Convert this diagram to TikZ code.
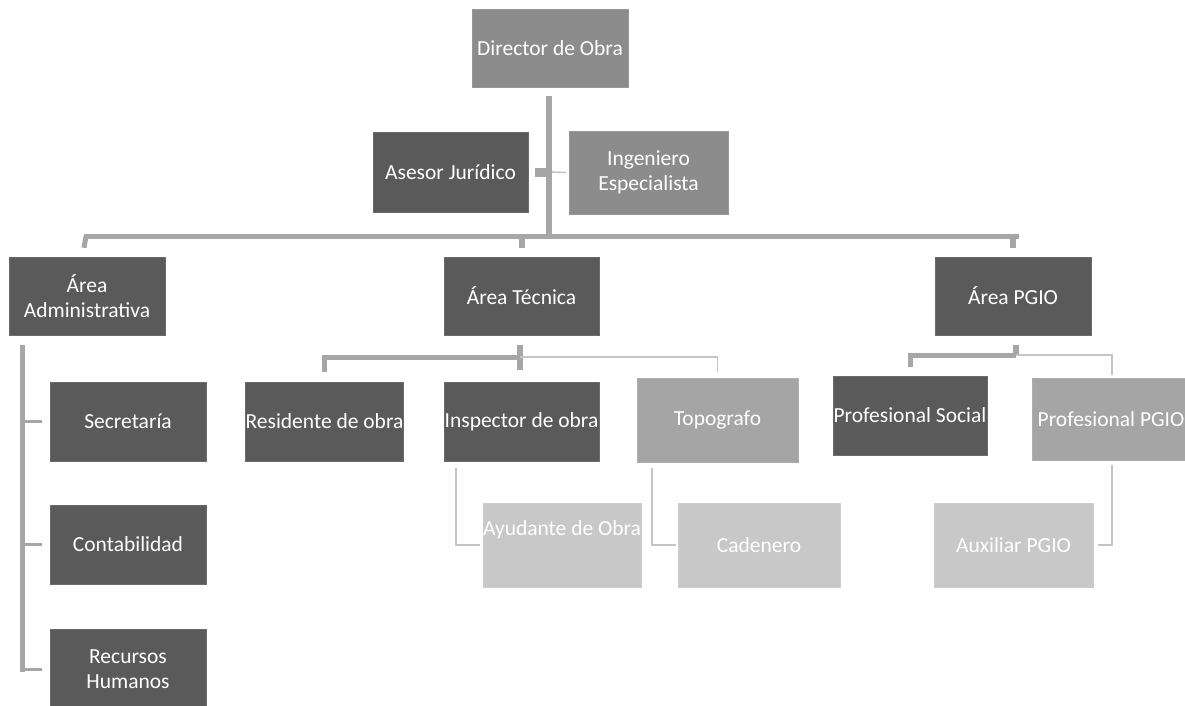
\documentclass[tikz,border=0pt]{standalone}
\usepackage{fontspec}
\setmainfont{Carlito}
\usetikzlibrary{calc}
\definecolor{boxdark}{HTML}{5A5A5A}
\definecolor{boxmid}{HTML}{8C8C8C}
\definecolor{boxmidlight}{HTML}{A5A5A5}
\definecolor{boxlight}{HTML}{C8C8C8}
\definecolor{linethick}{HTML}{A6A6A6}
\definecolor{linethin}{HTML}{C4C4C4}
\tikzset{
  box/.style={rectangle, inner sep=0pt, text=white, align=center,
    font=\fontsize{21.5}{24.5}\selectfont},
  darkbox/.style={box, fill=boxdark, draw=boxdark!90!white},
  midbox/.style={box, fill=boxmid, draw=boxmid!90!white},
  midlightbox/.style={box, fill=boxmidlight, draw=boxmidlight!90!white},
  lightbox/.style={box, fill=boxlight, draw=boxlight!90!white},
  thickline/.style={draw=linethick, line width=5pt},
  thinline/.style={draw=linethin, line width=1.6pt},
}
\begin{document}
\begin{tikzpicture}[x=1pt,y=-1pt]
\useasboundingbox (0,0) rectangle (1185,706);
% top
\node[midbox, minimum width=156pt, minimum height=78pt] (dir) at (550,48) {Director de Obra};
\node[darkbox, minimum width=155pt, minimum height=80pt] (ases) at (450.5,172) {Asesor Jurídico};
\node[midbox, minimum width=159pt, minimum height=83pt] (ing) at (648.5,172.5) {Ingeniero\\Especialista};
% areas
\node[darkbox, minimum width=156pt, minimum height=78pt] (adm) at (87,296) {Área\\Administrativa};
\node[darkbox, minimum width=155pt, minimum height=78pt] (tec) at (521.5,296) {Área Técnica};
\node[darkbox, minimum width=156pt, minimum height=78pt] (pgio) at (1013,296) {Área PGIO};
% admin children
\node[darkbox, minimum width=156pt, minimum height=79pt] (sec) at (128,421.5) {Secretaría};
\node[darkbox, minimum width=156pt, minimum height=79pt] (cont) at (128,544.5) {Contabilidad};
\node[darkbox, minimum width=156pt, minimum height=79pt] (rrhh) at (128,669) {Recursos\\Humanos};
% tecnica children
\node[darkbox, minimum width=157pt, minimum height=79pt] (res) at (324.5,421.5) {Residente de obra};
\node[darkbox, minimum width=155pt, minimum height=79pt] (insp) at (521.5,421.5) {Inspector de obra};
\node[midlightbox, minimum width=161pt, minimum height=84pt] (topo) at (717.5,420) {Topografo};
\node[lightbox, minimum width=158pt, minimum height=84pt] (ayu) at (562,545) {\raisebox{34pt}{Ayudante de Obra}};
\node[lightbox, minimum width=162pt, minimum height=84pt] (cad) at (759,545) {Cadenero};
% pgio children
\node[darkbox, minimum width=154pt, minimum height=79pt] (psoc) at (910,415.5) {Profesional Social};
\node[midlightbox, minimum width=158pt, minimum height=82pt] (ppgio) at (1111,419) {Profesional PGIO};
\node[lightbox, minimum width=159pt, minimum height=84pt] (aux) at (1013.5,545) {Auxiliar PGIO};

% coordinates
\coordinate (bus) at (549,236);
\coordinate (busL) at (84,236);
\coordinate (busR) at (1019,236);
\coordinate (advert) at (22,345);
\coordinate (tbus) at (520,357);
\coordinate (pbus) at (1016,355);

% trunk from director
\draw[thickline, line width=6pt] ([yshift=-9pt]dir.south -| bus) -- (bus);
\draw[thickline] (busL) -- (busR);
\draw[thickline] ([xshift=2pt]busL) -- ([yshift=9pt]busL |- adm.north);
\draw[thickline, line width=6pt] (tec.north |- bus) -- ([yshift=9pt]tec.north);
\draw[thickline, line width=6pt] (pgio.north |- busR) -- ([yshift=9pt]pgio.north);
% asesor / ingeniero
\draw[draw=linethick, line width=9pt] ([xshift=-3pt]bus |- ases.east) -- ([xshift=-14pt]bus |- ases.east);
\draw[thinline] ([xshift=3pt]bus |- ases.east) -- ([xshift=-3pt]ing.west);

% admin
\draw[thickline] (advert) -- ([yshift=-2.5pt]advert |- rrhh.west);
\draw[draw=linethick, line width=3pt] (advert |- sec.west) -- ([xshift=-8pt]sec.west);
\draw[draw=linethick, line width=3pt] (advert |- cont.west) -- ([xshift=-8pt]cont.west);
\draw[draw=linethick, line width=3pt] (advert |- rrhh.west) -- ([xshift=-8pt]rrhh.west);

% tecnica
\draw[thickline, line width=6pt] ([yshift=-10pt]tec.south -| tbus) -- ([yshift=12pt]insp.north -| tbus);
\draw[thickline] (tbus) -- (tbus -| res.north) -- ([yshift=10pt]res.north);
\draw[thinline] (tbus) -- (tbus -| topo.north) -- ([yshift=6pt]topo.north);
\draw[thinline] ([xshift=12pt,yshift=-7pt]insp.south west) -- ([xshift=12pt]insp.south west |- ayu.west) -- ([xshift=-3pt]ayu.west);
\draw[thinline] ([xshift=15pt,yshift=-6pt]topo.south west) -- ([xshift=15pt]topo.south west |- cad.west) -- ([xshift=-2pt]cad.west);

% pgio
\draw[thickline, line width=6pt] ([yshift=-10pt]pgio.south -| pbus) -- (pbus);
\draw[thickline] (pbus) -- (pbus -| psoc.north) -- ([yshift=9pt]psoc.north);
\draw[thinline] (pbus) -- ([xshift=1pt]pbus -| ppgio.north) -- ([xshift=1pt,yshift=3pt]ppgio.north);
\draw[thinline] ([xshift=1pt,yshift=-5pt]ppgio.south) -- ([xshift=1pt]ppgio.south |- aux.east) -- ([xshift=5pt]aux.east);
\end{tikzpicture}
\end{document}
